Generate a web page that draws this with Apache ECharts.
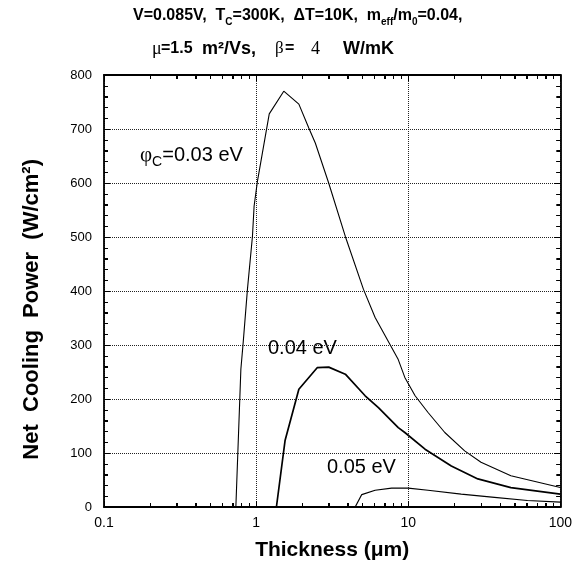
<!DOCTYPE html>
<html>
<head>
<meta charset="utf-8">
<script src="https://cdn.jsdelivr.net/npm/echarts@6/dist/echarts.min.js"></script>
<style>
html, body { margin: 0; padding: 0; background: #fff; }
#chart { width: 575px; height: 569px; }
</style>
</head>
<body>
<div id="chart"></div>
<script>
// 厚度(um) / 净制冷功率(W/cm2)
const phi003X = [0.736, 0.794, 0.822, 0.877, 0.946, 0.97, 1.02, 1.22, 1.52, 1.91, 2.22, 2.45, 3.0, 3.86, 5.08, 6.06, 8.6, 9.5, 11.1, 13.5, 17.4, 23.5, 30.1, 47.3, 100]
const phi003Y = [0, 255, 304, 403, 501, 557, 603, 728, 770, 746, 702, 674, 600, 501, 403, 351, 273, 240, 206, 175, 138, 104, 83, 58, 36]
const phi004X = [1.36, 1.55, 1.91, 2.52, 3.0, 3.86, 5.21, 6.37, 8.6, 9.5, 12.9, 19.2, 28.7, 47.3, 100]
const phi004Y = [0, 123, 218, 258, 259, 246, 206, 184, 147, 138, 107, 76, 52, 36, 24]
const phi005X = [4.48, 4.95, 6.06, 7.78, 10, 13.5, 22.3, 36.9, 60.8, 100]
const phi005Y = [0, 23, 31, 35, 35, 31, 24, 18, 12, 9]
// 刻度
const xMajorTicks = [0.1, 1, 10, 100]
const xMinorTicks = [0.2, 0.3, 0.4, 0.5, 0.6, 0.7, 0.8, 0.9, 2, 3, 4, 5, 6, 7, 8, 9, 20, 30, 40, 50, 60, 70, 80, 90]
const yMajorTicks = [0, 100, 200, 300, 400, 500, 600, 700, 800]
const yMinorTicks = [20, 40, 60, 80, 120, 140, 160, 180, 220, 240, 260, 280, 320, 340, 360, 380, 420, 440, 460, 480, 520, 540, 560, 580, 620, 640, 660, 680, 720, 740, 760, 780]

const FONT = "'Liberation Sans', Arial, Helvetica, sans-serif"
const SERIF = "'Liberation Serif', 'DejaVu Serif', serif"

const pair = (xs, ys) => xs.map((x, i) => [x, ys[i]])

const chart = echarts.init(document.getElementById('chart'))

// 对数横轴（上下各一条，组成边框）
const logAxis = (pos) => ({
  type: 'log',
  logBase: 10,
  min: 0.1,
  max: 100,
  position: pos,
  axisLine: { show: true, onZero: false, lineStyle: { color: '#000', width: 1.8 } },
  axisTick: { show: true, inside: true, length: 6, lineStyle: { color: '#000', width: 1 } },
  minorTick: { show: true, splitNumber: 9, length: 4, lineStyle: { color: '#000', width: 1 } },
  axisLabel: { show: pos === 'bottom', color: '#000', fontSize: 14, fontFamily: FONT, margin: 9 },
  splitLine: { show: pos === 'bottom', lineStyle: { type: 'dotted', color: '#222', width: 1 } }
})

const valAxis = (pos) => ({
  type: 'value',
  min: 0,
  max: 800,
  interval: 100,
  position: pos,
  axisLine: { show: true, onZero: false, lineStyle: { color: '#000', width: 1.8 } },
  axisTick: { show: true, inside: true, length: 6, lineStyle: { color: '#000', width: 1 } },
  minorTick: { show: true, splitNumber: 5, length: 4, lineStyle: { color: '#000', width: 1 } },
  axisLabel: { show: pos === 'left', color: '#000', fontSize: 13, fontFamily: FONT, margin: 12 },
  splitLine: { show: pos === 'left', lineStyle: { type: 'dotted', color: '#222', width: 1 } }
})

const boldText = (txt, x, y, size) => ({
  type: 'text',
  left: x,
  top: y,
  style: { text: txt, font: 'bold ' + size + 'px ' + FONT, fill: '#000' }
})

const texts = [
  {
    type: 'text',
    left: 133,
    top: 8,
    style: {
      text: 'V=0.085V,  T{sub|C}=300K,  ΔT=10K,  m{sub|eff}/m{sub|0}=0.04,',
      font: 'bold 16px ' + FONT,
      fill: '#000',
      rich: {
        sub: { fontSize: 10, fontWeight: 'bold', fontFamily: FONT, fill: '#000', padding: [12, 0, 0, 0] }
      }
    }
  },
  // 第二行标题分段放置
  { type: 'text', left: 152, top: 40, style: { text: 'μ', font: '18px ' + SERIF, fill: '#000' } },
  boldText('=1.5', 161, 41, 16),
  boldText('m²/Vs,', 202, 40, 18),
  { type: 'text', left: 275, top: 40, style: { text: 'β', font: '17px ' + SERIF, fill: '#000' } },
  boldText('=', 285, 41, 16),
  { type: 'text', left: 311, top: 40, style: { text: '4', font: '18px ' + SERIF, fill: '#000' } },
  boldText('W/mK', 343, 40, 18),
  {
    type: 'text',
    left: 140,
    top: 145,
    style: {
      text: '{g|φ}{sub|C}=0.03 eV',
      font: '20px ' + FONT,
      fill: '#000',
      rich: {
        g: { fontSize: 21, fontFamily: SERIF, fill: '#000' },
        sub: { fontSize: 14, fontFamily: FONT, fill: '#000', padding: [14, 0, 0, 0] }
      }
    }
  },
  { type: 'text', left: 268, top: 338, style: { text: '0.04 eV', font: '20px ' + FONT, fill: '#000' } },
  { type: 'text', left: 327, top: 457, style: { text: '0.05 eV', font: '20px ' + FONT, fill: '#000' } }
]

const option = {
  animation: false,
  backgroundColor: '#fff',
  grid: { left: 104, right: 13, top: 75, bottom: 62 },
  xAxis: [
    Object.assign(logAxis('bottom'), {
      name: 'Thickness (μm)',
      nameLocation: 'middle',
      nameGap: 33,
      nameTextStyle: { color: '#000', fontSize: 21, fontWeight: 'bold', fontFamily: FONT }
    }),
    logAxis('top')
  ],
  yAxis: [
    Object.assign(valAxis('left'), {
      name: 'Net  Cooling  Power  (W/cm²)      ',
      nameLocation: 'middle',
      nameGap: 61,
      nameTextStyle: { color: '#000', fontSize: 22, fontWeight: 'bold', fontFamily: FONT }
    }),
    valAxis('right')
  ],
  series: [
    { type: 'line', data: pair(phi003X, phi003Y), showSymbol: false, lineStyle: { color: '#000', width: 1.1 }, z: 5 },
    { type: 'line', data: pair(phi004X, phi004Y), showSymbol: false, lineStyle: { color: '#000', width: 1.7 }, z: 5 },
    { type: 'line', data: pair(phi005X, phi005Y), showSymbol: false, lineStyle: { color: '#000', width: 1.2 }, z: 5 }
  ],
  graphic: texts
}

chart.setOption(option)

// 四周的内向刻度，位置由坐标轴换算
const tickLine = (x1, y1, x2, y2) => ({
  type: 'line',
  z: 100,
  silent: true,
  shape: { x1: x1, y1: y1, x2: x2, y2: y2 },
  style: { stroke: '#000', lineWidth: 1 }
})
const toPxX = (v) => chart.convertToPixel({ xAxisIndex: 0 }, v)
const toPxY = (v) => chart.convertToPixel({ yAxisIndex: 0 }, v)
const gLeft = toPxX(0.1)
const gRight = toPxX(100)
const gBottom = toPxY(0)
const gTop = toPxY(800)
const tickEls = []
xMajorTicks.concat(xMinorTicks).forEach((v, i) => {
  const len = i < xMajorTicks.length ? 6 : 4
  const x = Math.round(toPxX(v)) + 0.5
  tickEls.push(tickLine(x, gBottom, x, gBottom - len), tickLine(x, gTop, x, gTop + len))
})
yMajorTicks.concat(yMinorTicks).forEach((v, i) => {
  const len = i < yMajorTicks.length ? 6 : 4
  const y = Math.round(toPxY(v)) + 0.5
  tickEls.push(tickLine(gLeft, y, gLeft + len, y), tickLine(gRight, y, gRight - len, y))
})
chart.setOption({ graphic: texts.concat(tickEls) })
</script>
</body>
</html>
